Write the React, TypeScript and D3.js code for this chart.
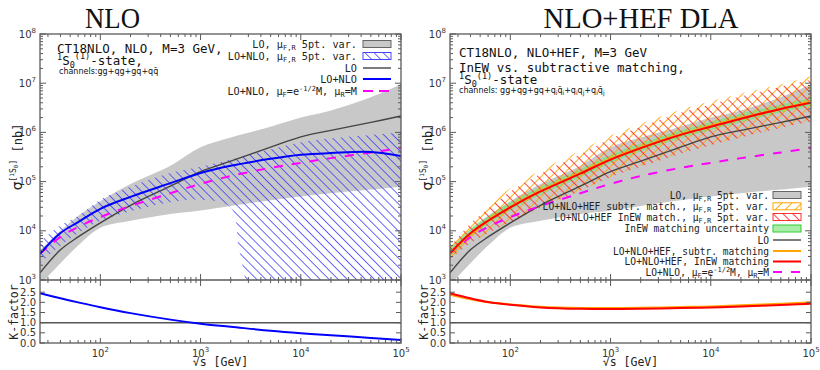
import React from "react";
import * as d3 from "d3";

// ---------- data (sqrt(s) in GeV, sigma in nb) ----------
const sqrtS = [25, 40, 60, 100, 200, 500, 1000, 2000, 5000, 10000, 20000, 50000, 100000];

// LO central and 5pt scale-variation band
const sigmaLO = [1.4e3, 4.1e3, 7.5e3, 1.45e4, 3.3e4, 8.1e4, 1.6e5, 2.6e5, 5.0e5, 8.1e5, 1.1e6, 1.6e6, 2.15e6];
const sigmaLOUp = [4.0e3, 1.0e4, 2.0e4, 4.0e4, 8.9e4, 2.1e5, 5.0e5, 7.9e5, 1.3e6, 2.0e6, 2.8e6, 5.2e6, 9.5e6];
const sigmaLOLow = [8e2, 2.2e3, 5.0e3, 1.15e4, 1.6e4, 2.2e4, 2.6e4, 3.2e4, 4.2e4, 5.0e4, 5.8e4, 6.9e4, 7.9e4];

// LO+NLO central and band
const sigmaNLO = [3.4e3, 9.0e3, 1.5e4, 2.8e4, 4.9e4, 9.3e4, 1.5e5, 2.1e5, 2.9e5, 3.5e5, 3.8e5, 4.0e5, 3.3e5];
const sigmaNLOUp = [6.0e3, 1.3e4, 2.0e4, 4.3e4, 7.9e4, 1.5e5, 2.0e5, 2.8e5, 4.5e5, 6.3e5, 7.6e5, 8.9e5, 1.0e6];
const sqrtSNLOLow = [25, 40, 60, 100, 200, 500, 1000, 2000, 2400, 2800, 3500, 100000];
const sigmaNLOLow = [2.2e3, 5.0e3, 8.9e3, 1.6e4, 2.5e4, 3.8e4, 4.3e4, 3.0e4, 4.7e3, 1.0e3, 1.0e2, 1.0e2];

// LO+NLO with muF = e^{-1/2} M
const sigmaNLOmuF = [3.4e3, 7.5e3, 1.2e4, 1.9e4, 3.2e4, 5.8e4, 9.0e4, 1.3e5, 1.9e5, 2.4e5, 3.0e5, 3.9e5, 4.8e5];

// LO+NLO+HEF: InEW and subtractive matching
const sigmaInEW = [3.5e3, 8.9e3, 1.6e4, 3.0e4, 6.3e4, 1.45e5, 2.8e5, 4.8e5, 8.9e5, 1.3e6, 1.9e6, 3.0e6, 4.0e6];
const sigmaInEWUp = [4.7e3, 1.4e4, 2.8e4, 6.3e4, 1.45e5, 3.6e5, 7.4e5, 1.3e6, 2.5e6, 3.7e6, 5.4e6, 8.5e6, 1.17e7];
const sigmaInEWLow = [2.7e3, 5.6e3, 8.9e3, 1.5e4, 2.95e4, 6.5e4, 1.23e5, 2.0e5, 3.7e5, 5.5e5, 7.9e5, 1.23e6, 1.66e6];
const sigmaMatchUp = [4.4e3, 1.1e4, 2.0e4, 3.8e4, 7.9e4, 1.8e5, 3.5e5, 6.0e5, 1.1e6, 1.65e6, 2.4e6, 3.7e6, 5.0e6];
const sigmaMatchLow = [3.0e3, 7.6e3, 1.35e4, 2.6e4, 5.4e4, 1.23e5, 2.4e5, 4.1e5, 7.6e5, 1.1e6, 1.6e6, 2.55e6, 3.4e6];
const sigmaSubtr = [3.4e3, 8.7e3, 1.6e4, 3.05e4, 6.5e4, 1.5e5, 2.9e5, 4.9e5, 9.1e5, 1.35e6, 1.95e6, 3.0e6, 4.2e6];
const sigmaSubtrUp = [4.9e3, 1.55e4, 3.2e4, 7.3e4, 1.7e5, 4.3e5, 8.7e5, 1.5e6, 2.9e6, 4.3e6, 6.2e6, 9.5e6, 1.38e7];
const sigmaSubtrLow = [2.5e3, 5.5e3, 8.9e3, 1.5e4, 3.0e4, 6.6e4, 1.26e5, 2.1e5, 3.8e5, 5.6e5, 8.1e5, 1.26e6, 1.74e6];

// K-factors
const kNLO = [2.45, 2.2, 2.0, 1.76, 1.47, 1.15, 0.95, 0.8, 0.6, 0.48, 0.38, 0.25, 0.15];
const kInEW = [2.45, 2.2, 2.02, 1.88, 1.75, 1.68, 1.67, 1.68, 1.72, 1.75, 1.8, 1.87, 1.93];
const kSubtr = [2.38, 2.15, 2.0, 1.9, 1.78, 1.72, 1.72, 1.73, 1.77, 1.8, 1.86, 1.93, 2.0];

// ticks
const xMajorTicks = [100, 1000, 10000, 100000];
const yMajorTicks = [1e3, 1e4, 1e5, 1e6, 1e7, 1e8];
const kTicks = [0, 0.5, 1.0, 1.5, 2.0, 2.5];

// ---------- layout ----------
const Y_TOP = 34;
const Y_MID = 280;
const Y_BOT = 343;
const MONO = "'DejaVu Sans Mono', monospace";
const SANS = "'DejaVu Sans', sans-serif";
const SERIF = "'Liberation Serif', 'DejaVu Serif', serif";
const FRAME = "#5a5a5a";

const yMain = d3.scaleLog().domain([1e3, 1e8]).range([Y_MID, Y_TOP]);
const yK = d3.scaleLinear().domain([0, 3.1]).range([Y_BOT, Y_MID]);

function minorTicks(lo: number, hi: number) {
  const out: number[] = [];
  for (let e = 0; e <= 8; e++) {
    for (let m = 2; m <= 9; m++) {
      const v = m * Math.pow(10, e);
      if (v > lo && v < hi) out.push(v);
    }
  }
  return out;
}

function mkLine(x: any, y: any, xs: number[], ys: number[]) {
  return d3
    .line<number>()
    .x((_, i) => x(xs[i]))
    .y((d) => y(d))
    .curve(d3.curveCatmullRom.alpha(0.5))(ys) as string;
}

function mkBand(x: any, xsU: number[], up: number[], xsL: number[], low: number[]) {
  const u = mkLine(x, yMain, xsU, up);
  const rx = xsL.slice().reverse();
  const rl = low.slice().reverse();
  const l = mkLine(x, yMain, rx, rl);
  return u + "L" + l.slice(1) + "Z";
}

function Frame({ x }: { x: any }) {
  const [x0, x1] = x.range();
  const xMinor = minorTicks(25, 1e5);
  const yMinor = minorTicks(1e3, 1e8);
  const els: any[] = [];
  xMajorTicks.forEach((t, i) => {
    const px = x(t);
    els.push(<line key={"xt" + i} x1={px} x2={px} y1={Y_TOP} y2={Y_TOP + 6} />);
    els.push(<line key={"xm" + i} x1={px} x2={px} y1={Y_MID - 6} y2={Y_MID + 6} />);
    els.push(<line key={"xb" + i} x1={px} x2={px} y1={Y_BOT} y2={Y_BOT - 5} />);
  });
  xMinor.forEach((t, i) => {
    const px = x(t);
    els.push(<line key={"xnt" + i} x1={px} x2={px} y1={Y_TOP} y2={Y_TOP + 3} />);
    els.push(<line key={"xnm" + i} x1={px} x2={px} y1={Y_MID - 3} y2={Y_MID + 3} />);
    els.push(<line key={"xnb" + i} x1={px} x2={px} y1={Y_BOT} y2={Y_BOT - 3} />);
  });
  yMajorTicks.forEach((t, i) => {
    const py = yMain(t);
    els.push(<line key={"yl" + i} x1={x0} x2={x0 + 6} y1={py} y2={py} />);
    els.push(<line key={"yr" + i} x1={x1} x2={x1 - 6} y1={py} y2={py} />);
  });
  yMinor.forEach((t, i) => {
    const py = yMain(t);
    els.push(<line key={"ynl" + i} x1={x0} x2={x0 + 3} y1={py} y2={py} />);
    els.push(<line key={"ynr" + i} x1={x1} x2={x1 - 3} y1={py} y2={py} />);
  });
  kTicks.forEach((t, i) => {
    const py = yK(t);
    els.push(<line key={"kl" + i} x1={x0} x2={x0 + 5} y1={py} y2={py} />);
    els.push(<line key={"kr" + i} x1={x1} x2={x1 - 5} y1={py} y2={py} />);
  });
  return (
    <g>
      <g stroke={FRAME} strokeWidth={1}>{els}</g>
      <rect x={x0} y={Y_TOP} width={x1 - x0} height={Y_BOT - Y_TOP} fill="none" stroke={FRAME} strokeWidth={1.3} />
      <line x1={x0} x2={x1} y1={Y_MID} y2={Y_MID} stroke={FRAME} strokeWidth={1.3} />
      <g fontFamily={SANS} fontSize={10} fill="#333">
        {yMajorTicks.map((t, i) => (
          <text key={"yl" + i} x={x0 - 4} y={yMain(t) + 3.5} textAnchor="end">
            10<tspan dy={-5} fontSize={7}>{Math.round(Math.log10(t))}</tspan>
          </text>
        ))}
        {kTicks.map((t, i) => (
          <text key={"kl" + i} x={x0 - 4} y={yK(t) + 3.5} textAnchor="end">
            {t.toFixed(1)}
          </text>
        ))}
        {xMajorTicks.map((t, i) => (
          <text key={"xl" + i} x={x(t)} y={357} textAnchor="middle">
            10<tspan dy={-5} fontSize={7}>{Math.round(Math.log10(t))}</tspan>
          </text>
        ))}
      </g>
      <text x={x0 - 18} y={157} transform={`rotate(-90 ${x0 - 18} 157)`} textAnchor="middle" fill="#222" fontFamily={MONO} fontSize={12}>
        <tspan fontFamily={SANS} fontSize={14}>σ</tspan>
        <tspan dy={-6} fontSize={8}>[</tspan>
        <tspan dy={-2} fontSize={6}>1</tspan>
        <tspan dy={2} fontSize={8}>S</tspan>
        <tspan dy={2} fontSize={6}>0</tspan>
        <tspan dy={-2} fontSize={8}>]</tspan>
        <tspan dy={6}>{"  [nb]"}</tspan>
      </text>
      <text x={x0 - 22.5} y={312} transform={`rotate(-90 ${x0 - 22.5} 312)`} textAnchor="middle" fill="#222" fontFamily={MONO} fontSize={11.5}>
        K-factor
      </text>
      <text x={(x0 + x1) / 2} y={366} textAnchor="middle" fill="#222" fontFamily={MONO} fontSize={11.5}>
        √s [GeV]
      </text>
    </g>
  );
}

type LegendRow = { label: any; kind: "band" | "line"; fill?: string; stroke: string; dash?: string; width?: number };

function Legend({ rows, textRight, symX, ys, fontSize }: { rows: LegendRow[]; textRight: number; symX: number; ys: number[]; fontSize: number }) {
  return (
    <g fontFamily={MONO} fontSize={fontSize} fill="#222">
      {rows.map((r, i) => (
        <g key={i}>
          <text x={textRight} y={ys[i] + 3.5} textAnchor="end">{r.label}</text>
          {r.kind === "band" ? (
            <rect x={symX} y={ys[i] - 3.5} width={28} height={7} fill={r.fill} stroke={r.stroke} strokeWidth={1} />
          ) : (
            <line x1={symX} x2={symX + 28} y1={ys[i]} y2={ys[i]} stroke={r.stroke} strokeWidth={r.width || 2} strokeDasharray={r.dash} />
          )}
        </g>
      ))}
    </g>
  );
}

function varLabel(prefix: string) {
  return (
    <>
      {prefix}μ<tspan dy={2.5} fontSize={7}>F,R</tspan>
      <tspan dy={-2.5}>{" 5pt. var."}</tspan>
    </>
  );
}

const muLabel = (
  <>
    {"LO+NLO, μ"}
    <tspan dy={2.5} fontSize={7}>F</tspan>
    <tspan dy={-2.5}>=e</tspan>
    <tspan dy={-4} fontSize={7}>-1/2</tspan>
    <tspan dy={4}>M, μ</tspan>
    <tspan dy={2.5} fontSize={7}>R</tspan>
    <tspan dy={-2.5}>=M</tspan>
  </>
);

function StateLine({ x, y, tail }: { x: number; y: number; tail: string }) {
  return (
    <text x={x} y={y} fontSize={12.5}>
      <tspan dy={-5} fontSize={8.5}>1</tspan>
      <tspan dy={5}>S</tspan>
      <tspan dy={3} fontSize={8.5}>0</tspan>
      <tspan dy={-8.5} fontSize={8.5}>(1)</tspan>
      <tspan dy={5.5}>{tail}</tspan>
    </text>
  );
}

function LeftPanel() {
  const x = d3.scaleLog().domain([25, 1e5]).range([40, 401]);
  const clip = "clipL";
  const [x0, x1] = x.range();
  return (
    <g>
      <defs>
        <clipPath id={clip}>
          <rect x={x0} y={Y_TOP} width={x1 - x0} height={Y_MID - Y_TOP} />
        </clipPath>
        <clipPath id={clip + "K"}>
          <rect x={x0} y={Y_MID} width={x1 - x0} height={Y_BOT - Y_MID} />
        </clipPath>
      </defs>
      <text x={112.5} y={28} textAnchor="middle" fontFamily={SERIF} fontSize={30} textLength={55} lengthAdjust="spacingAndGlyphs" fill="#111">NLO</text>
      <g clipPath={`url(#${clip})`}>
        <path d={mkBand(x, sqrtS, sigmaLOUp, sqrtS, sigmaLOLow)} fill="#c8c8c8" />
        <path d={mkBand(x, sqrtS, sigmaNLOUp, sqrtSNLOLow, sigmaNLOLow)} fill="url(#hatchBlue)" />
        <path d={mkLine(x, yMain, sqrtS, sigmaLO)} fill="none" stroke="#444" strokeWidth={1.4} />
        <path d={mkLine(x, yMain, sqrtS, sigmaNLOmuF)} fill="none" stroke="#ff00ff" strokeWidth={2} strokeDasharray="9,9" />
        <path d={mkLine(x, yMain, sqrtS, sigmaNLO)} fill="none" stroke="#0000ff" strokeWidth={2} />
      </g>
      <g clipPath={`url(#${clip}K)`}>
        <line x1={x0} x2={x1} y1={yK(1)} y2={yK(1)} stroke="#555" strokeWidth={1.5} />
        <path d={mkLine(x, yK, sqrtS, kNLO)} fill="none" stroke="#0000ff" strokeWidth={2} />
      </g>
      <Frame x={x} />
      <g fontFamily={MONO} fill="#111">
        <text x={57} y={52.5} fontSize={12.5}>CT18NLO, NLO, M=3 GeV,</text>
        <StateLine x={57} y={64.5} tail="-state," />
        <text x={59} y={73.5} fontSize={8} fontFamily={SANS}>channels:gg+qg+gq+qq̄</text>
      </g>
      <Legend
        textRight={357}
        symX={363}
        ys={[44, 56, 68, 79, 91]}
        fontSize={10.2}
        rows={[
          { label: varLabel("LO, "), kind: "band", fill: "#c8c8c8", stroke: "#666" },
          { label: varLabel("LO+NLO, "), kind: "band", fill: "url(#hatchBlue)", stroke: "#4444ff" },
          { label: "LO", kind: "line", stroke: "#444", width: 1.4 },
          { label: "LO+NLO", kind: "line", stroke: "#0000ff" },
          { label: muLabel, kind: "line", stroke: "#ff00ff", dash: "10,6" },
        ]}
      />
    </g>
  );
}

function RightPanel() {
  const x = d3.scaleLog().domain([25, 1e5]).range([450, 811]);
  const clip = "clipR";
  const [x0, x1] = x.range();
  return (
    <g>
      <defs>
        <clipPath id={clip}>
          <rect x={x0} y={Y_TOP} width={x1 - x0} height={Y_MID - Y_TOP} />
        </clipPath>
        <clipPath id={clip + "K"}>
          <rect x={x0} y={Y_MID} width={x1 - x0} height={Y_BOT - Y_MID} />
        </clipPath>
      </defs>
      <text x={641} y={28} textAnchor="middle" fontFamily={SERIF} fontSize={30} textLength={195} lengthAdjust="spacingAndGlyphs" fill="#111">NLO+HEF DLA</text>
      <g clipPath={`url(#${clip})`}>
        <path d={mkBand(x, sqrtS, sigmaLOUp, sqrtS, sigmaLOLow)} fill="#c8c8c8" />
        <path d={mkBand(x, sqrtS, sigmaMatchUp, sqrtS, sigmaMatchLow)} fill="#7de07d" fillOpacity={0.75} />
        <path d={mkBand(x, sqrtS, sigmaSubtrUp, sqrtS, sigmaSubtrLow)} fill="url(#hatchOrange)" />
        <path d={mkBand(x, sqrtS, sigmaInEWUp, sqrtS, sigmaInEWLow)} fill="url(#hatchRed)" />
        <path d={mkLine(x, yMain, sqrtS, sigmaLO)} fill="none" stroke="#444" strokeWidth={1.4} />
        <path d={mkLine(x, yMain, sqrtS, sigmaNLOmuF)} fill="none" stroke="#ff00ff" strokeWidth={2} strokeDasharray="9,9" />
        <path d={mkLine(x, yMain, sqrtS, sigmaSubtr)} fill="none" stroke="#ffa500" strokeWidth={2.4} />
        <path d={mkLine(x, yMain, sqrtS, sigmaInEW)} fill="none" stroke="#ff0000" strokeWidth={2} />
      </g>
      <g clipPath={`url(#${clip}K)`}>
        <line x1={x0} x2={x1} y1={yK(1)} y2={yK(1)} stroke="#555" strokeWidth={1.5} />
        <path d={mkLine(x, yK, sqrtS, kSubtr)} fill="none" stroke="#ffa500" strokeWidth={2} />
        <path d={mkLine(x, yK, sqrtS, kInEW)} fill="none" stroke="#ff0000" strokeWidth={2} />
      </g>
      <Frame x={x} />
      <g fontFamily={MONO} fill="#111">
        <text x={459} y={57} fontSize={12.5}>CT18NLO, NLO+HEF, M=3 GeV</text>
        <text x={459} y={71.5} fontSize={12.5}>InEW vs. subtractive matching,</text>
        <StateLine x={459} y={84} tail="-state" />
        <text x={459} y={93} fontSize={8} fontFamily={SANS}>
          {"channels: gg+qg+gq+q"}
          <tspan dy={2} fontSize={6}>i</tspan>
          <tspan dy={-2}>q̄</tspan>
          <tspan dy={2} fontSize={6}>i</tspan>
          <tspan dy={-2}>+q</tspan>
          <tspan dy={2} fontSize={6}>i</tspan>
          <tspan dy={-2}>q</tspan>
          <tspan dy={2} fontSize={6}>j</tspan>
          <tspan dy={-2}>+q</tspan>
          <tspan dy={2} fontSize={6}>i</tspan>
          <tspan dy={-2}>q̄</tspan>
          <tspan dy={2} fontSize={6}>j</tspan>
        </text>
      </g>
      <Legend
        textRight={769}
        symX={773}
        ys={[195, 206.3, 217, 228.5, 240, 251, 261.5, 272]}
        fontSize={9.6}
        rows={[
          { label: varLabel("LO, "), kind: "band", fill: "#c8c8c8", stroke: "#666" },
          { label: varLabel("LO+NLO+HEF subtr. match., "), kind: "band", fill: "url(#hatchOrange)", stroke: "#ffa500" },
          { label: varLabel("LO+NLO+HEF InEW match., "), kind: "band", fill: "url(#hatchRed)", stroke: "#ff3030" },
          { label: "InEW matching uncertainty", kind: "band", fill: "#a8eea8", stroke: "#33cc33" },
          { label: "LO", kind: "line", stroke: "#444", width: 1.4 },
          { label: "LO+NLO+HEF, subtr. matching", kind: "line", stroke: "#ffa500" },
          { label: "LO+NLO+HEF, InEW matching", kind: "line", stroke: "#ff0000" },
          { label: muLabel, kind: "line", stroke: "#ff00ff", dash: "9,9" },
        ]}
      />
    </g>
  );
}

export default function App() {
  return (
    <svg width={820} height={370} viewBox="0 0 820 370" style={{ position: "fixed", left: 0, top: 0, background: "#fff" }}>
      <defs>
        <pattern id="hatchBlue" patternUnits="userSpaceOnUse" width={6.4} height={6.4} patternTransform="rotate(-45)">
          <line x1={3.2} x2={3.2} y1={0} y2={6.4} stroke="#3b3bff" strokeWidth={0.9} strokeOpacity={0.85} />
        </pattern>
        <pattern id="hatchOrange" patternUnits="userSpaceOnUse" width={7} height={7} patternTransform="rotate(45)">
          <line x1={3.5} x2={3.5} y1={0} y2={7} stroke="#ffa500" strokeWidth={0.9} />
        </pattern>
        <pattern id="hatchRed" patternUnits="userSpaceOnUse" width={7} height={7} patternTransform="rotate(-45)">
          <line x1={3.5} x2={3.5} y1={0} y2={7} stroke="#ff3030" strokeWidth={0.9} />
        </pattern>
      </defs>
      <rect x={0} y={0} width={820} height={370} fill="#fff" />
      <LeftPanel />
      <RightPanel />
    </svg>
  );
}
